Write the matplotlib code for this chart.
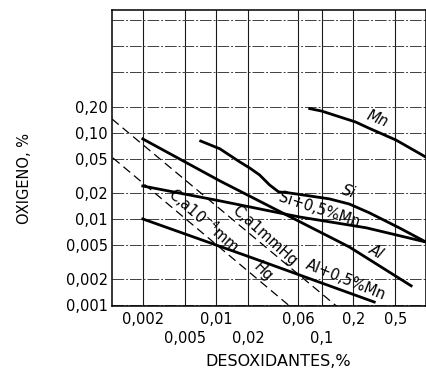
import matplotlib.pyplot as plt
from matplotlib.ticker import FixedLocator, FixedFormatter, NullLocator

#%% Data (x = desoxidante %, y = oxigeno %)
mn_x = [0.077, 0.10, 0.21, 0.28, 0.51, 0.98]
mn_y = [0.19, 0.178, 0.133, 0.113, 0.082, 0.052]

si_x = [0.0071, 0.0108, 0.0166, 0.0207, 0.0257, 0.032, 0.039, 0.0496,
        0.0766, 0.118, 0.183, 0.283, 0.545, 0.98]
si_y = [0.080, 0.065, 0.046, 0.039, 0.0324, 0.0248, 0.0206, 0.0200,
        0.0185, 0.0171, 0.0149, 0.0118, 0.0079, 0.0054]

si_mn_x = [0.002, 0.0108, 0.0615, 0.265, 0.98]
si_mn_y = [0.0241, 0.0162, 0.01055, 0.0079, 0.0054]

al_x = [0.002, 0.0108, 0.0425, 0.183, 0.708]
al_y = [0.0846, 0.0276, 0.01175, 0.00474, 0.00168]

al_mn_x = [0.002, 0.0207, 0.316]
al_mn_y = [0.0100, 0.00363, 0.00109]

# carbon at 1 mm Hg and at 10^-4 mm Hg (dashed)
c_1mm_x = [0.00102, 0.138]
c_1mm_y = [0.144, 0.00098]
c_1e4_x = [0.00104, 0.0496]
c_1e4_y = [0.051, 0.00098]

# ticks
x_ticks_row1 = [0.002, 0.01, 0.06, 0.2, 0.5]
x_labels_row1 = ['0,002', '0,01', '0,06', '0,2', '0,5']
x_ticks_row2 = [0.005, 0.02, 0.1]
x_labels_row2 = ['0,005', '0,02', '0,1']
y_ticks = [0.001, 0.002, 0.005, 0.01, 0.02, 0.05, 0.1, 0.2, 0.5, 1, 2]
y_labels = ['0,001', '0,002', '0,005', '0,01', '0,02', '0,05', '0,10',
            '0,20', '', '', '']

#%% Build the plot
plt.rcParams['font.family'] = ['DejaVu Sans']
fig = plt.figure(figsize=(4.27, 3.73), dpi=100)
ax = fig.add_axes([112/427, 67/373, 314/427, 296/373])

ax.set_xscale('log')
ax.set_yscale('log')
ax.set_xlim(0.00102, 0.98)
ax.set_ylim(0.00098, 2.64)

ax.xaxis.set_major_locator(FixedLocator(x_ticks_row1))
ax.xaxis.set_major_formatter(FixedFormatter(x_labels_row1))
ax.xaxis.set_minor_locator(FixedLocator(x_ticks_row2))
ax.xaxis.set_minor_formatter(FixedFormatter(x_labels_row2))
ax.yaxis.set_major_locator(FixedLocator(y_ticks))
ax.yaxis.set_major_formatter(FixedFormatter(y_labels))
ax.yaxis.set_minor_locator(NullLocator())

ax.tick_params(axis='x', which='major', length=0, pad=4.5, labelsize=10.5)
ax.tick_params(axis='x', which='minor', length=0, pad=18, labelsize=10.5)
ax.tick_params(axis='y', which='major', length=0, pad=3, labelsize=10.5)

# vertical grid solid, horizontal grid broken like the scan
ax.grid(True, which='both', axis='x', color='0.1', lw=0.8, ls='-')
ax.grid(True, which='major', axis='y', color='0.25', lw=0.7,
        ls=(0, (12, 2, 2, 2)))
ax.set_axisbelow(True)
for sp in ax.spines.values():
    sp.set_linewidth(1.1)

lw = 2.0
ax.plot(mn_x, mn_y, color='k', lw=lw)
ax.plot(si_x, si_y, color='k', lw=lw)
ax.plot(si_mn_x, si_mn_y, color='k', lw=lw)
ax.plot(al_x, al_y, color='k', lw=lw)
ax.plot(al_mn_x, al_mn_y, color='k', lw=lw)
ax.plot(c_1mm_x, c_1mm_y, color='k', lw=0.9, ls=(0, (7, 4)))
ax.plot(c_1e4_x, c_1e4_y, color='k', lw=0.9, ls=(0, (7, 4)))

#%% Curve labels
lab = dict(fontsize=10.5, ha='center', va='center', rotation_mode='anchor')
ax.text(0.337, 0.146, 'Mn', rotation=-22, style='italic', **lab)
ax.text(0.18, 0.0205, 'Si', rotation=-18, style='italic', **lab)
ax.text(0.0953, 0.0128, 'Si+0,5%Mn', rotation=-18, **lab)
ax.text(0.33, 0.00415, 'Al', rotation=-30, style='italic', **lab)
ax.text(0.171, 0.00196, 'Al+0,5%Mn', rotation=-22, **lab)
ax.text(0.0287, 0.00635, 'C,a1mmHg', rotation=-42, **lab)
ax.text(0.0076, 0.0098, 'C,a10$^{-4}$mm', rotation=-41, **lab)
ax.text(0.0275, 0.00243, 'Hg', rotation=-45, **lab)

#%% Axis labels
fig.text(25/427, 1 - 178/373, 'OXIGENO, %', rotation=90, fontsize=10.5,
         ha='center', va='center')
fig.text(278/427, 1 - 362/373, 'DESOXIDANTES,%', fontsize=11.5,
         ha='center', va='center')

fig.savefig('out.png', dpi=100)
